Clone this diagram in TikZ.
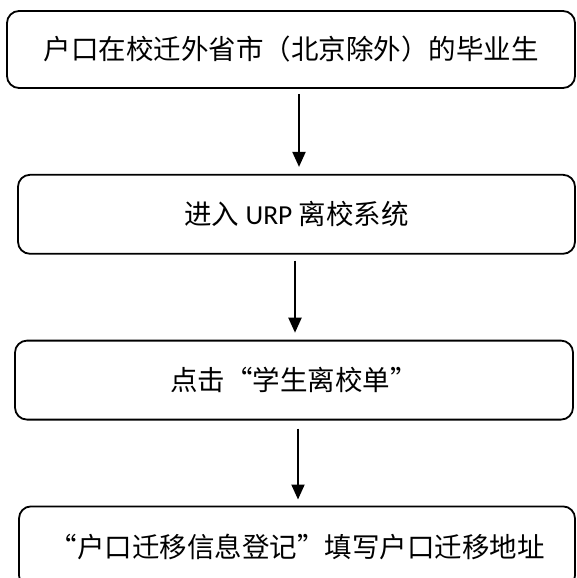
\documentclass[tikz,border=0pt]{standalone}
\usepackage{fontspec}
\setmainfont{Noto Sans CJK SC}
\newfontfamily\latinfont{Carlito}
\newfontfamily\quotefont{Noto Sans CJK SC}[RawFeature=+fwid]
\newcommand{\fwq}[1]{{\quotefont #1}}
\usetikzlibrary{arrows.meta, positioning}

\tikzset{
	stepbox/.style = {draw, line width=1.8pt, rounded corners=12pt, align=center,
		font=\fontsize{27.5}{33}\selectfont},
	flow/.style = {line width=2pt, -{Triangle[width=13pt, length=15pt]}},
}

\begin{document}
\begin{tikzpicture}[	node distance = 85pt, ]
	\useasboundingbox (0,0) rectangle (576pt,-578pt);

	\node (grad) [stepbox, minimum width=568pt, minimum height=77pt] at (291pt,-49.5pt)
		{户口在校迁外省市（北京除外）的毕业生};
	\node (urp) [stepbox, minimum width=557pt, minimum height=79pt, below = of grad, xshift=5.5pt]
		{进入 {\latinfont URP} 离校系统};
	\node (form) [stepbox, minimum width=558pt, minimum height=79pt, below = of urp, xshift=-2.5pt]
		{点击\fwq{“}学生离校单\fwq{”}};
	\node (addr) [stepbox, minimum width=556pt, minimum height=81pt, below = of form, xshift=3pt]
		{\fwq{“}户口迁移信息登记\fwq{”}填写户口迁移地址};

\path [flow]
	([xshift=8pt]grad.south) edge [shorten <=5pt, shorten >=7pt] ([xshift=8pt]grad.south |- urp.north)
	([xshift=-1.5pt]urp.south) edge [shorten <=6pt, shorten >=7pt] ([xshift=-1.5pt]urp.south |- form.north)
	([xshift=4pt]form.south) edge [shorten <=8pt, shorten >=6pt] ([xshift=4pt]form.south |- addr.north);
\end{tikzpicture}
\end{document}
